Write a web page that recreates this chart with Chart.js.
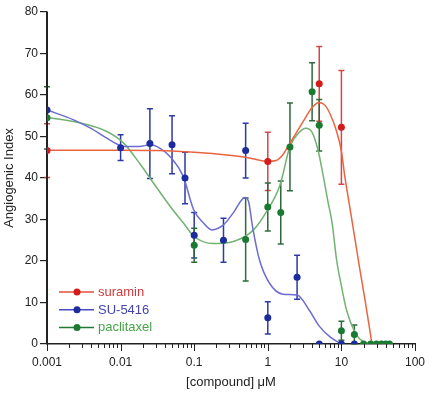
<!DOCTYPE html>
<html><head><meta charset="utf-8">
<script src="https://cdn.jsdelivr.net/npm/chart.js@4/dist/chart.umd.min.js"></script>
<style>html,body{margin:0;padding:0;background:#fff;}#wrap{width:432px;height:394px;}</style>
</head><body><div id="wrap"><canvas id="c" width="432" height="394"></canvas></div>
<script>
// ---- data ----
const seriesNames = ['suramin', 'SU-5416', 'paclitaxel'];
const xTickValues = [0.001, 0.01, 0.1, 1, 10, 100];
const xTickLabels = ['0.001', '0.01', '0.1', '1', '10', '100'];
const yTickStep = 10;

const suraminX   = [0.001, 1, 5, 10];
const suraminY   = [46.6, 44, 62.7, 52.2];
const suraminErr = [6.5, 7, 9, 13.7];

const su5416X   = [0.001, 0.01, 0.025, 0.05, 0.075, 0.1, 0.25, 0.5, 1, 2.5, 5, 10, 15];
const su5416Y   = [56.4, 47.3, 48.3, 48, 40, 26.2, 25, 46.6, 6.3, 16.1, 0, 0, 0];
const su5416Err = [0, 3.1, 8.4, 7, 6.2, 5.5, 5.3, 6.6, 3.9, 5.3, 0, 0, 0];

const paclitaxelX   = [0.001, 0.1, 0.5, 1, 1.5, 2, 4, 5, 10, 15, 20, 25, 30, 35, 40, 45];
const paclitaxelY   = [54.5, 23.8, 25.2, 33, 31.7, 47.5, 60.8, 52.7, 3.2, 2.3, 0, 0, 0, 0, 0, 0];
const paclitaxelErr = [7.5, 4.1, 10, 5.8, 7.6, 10.6, 7, 6.2, 2.3, 2.3, 0, 0, 0, 0, 0, 0];

// fitted curves
const suraminCurveX = [0.001, 0.01, 0.03, 0.1, 0.3, 0.5, 1, 1.3, 1.6, 2, 3, 4, 5, 6, 7.2, 8.5, 10, 11.1, 13, 15.2, 17.8, 20.9, 24.4, 26];
const suraminCurveY = [46.7, 46.7, 46.6, 46.2, 45.5, 45, 44, 44.2, 45.6, 48.4, 53.5, 57, 58.2, 57.5, 55, 51.5, 46.5, 40.5, 33, 25.6, 18, 10.7, 3.2, 0];

const su5416CurveX = [0.001, 0.0023, 0.0039, 0.0065, 0.0089, 0.011, 0.018, 0.025, 0.034, 0.049, 0.071, 0.098, 0.133, 0.173, 0.25, 0.34, 0.49, 0.55, 0.62, 0.77, 1.05, 1.6, 2.5, 3.7, 5, 7, 10];
const su5416CurveY = [56.4, 54, 52, 49.6, 48.2, 47.6, 47.6, 48, 47.2, 44.8, 40.4, 32.4, 29.2, 27.5, 28.7, 31.6, 35.3, 34.2, 28.3, 20.3, 14.7, 12, 11.8, 8, 4.3, 1.7, 0];

const paclitaxelCurveX = [0.001, 0.0023, 0.0065, 0.011, 0.018, 0.025, 0.047, 0.071, 0.1, 0.18, 0.34, 0.64, 0.97, 1.47, 2, 2.6, 3.3, 4, 4.8, 5.6, 6.5, 7.5, 8.6, 10, 11.7, 16, 20, 25];
const paclitaxelCurveY = [54.6, 53.6, 51.2, 48.4, 43.6, 40, 33.2, 29.2, 25.9, 24.2, 24.7, 27.5, 32, 38.4, 47.6, 50.8, 52, 51, 46.8, 41, 34.7, 29, 20.3, 14, 8.3, 2.2, 0.5, 0];

// ---- styles ----
const FONT = "'Liberation Sans', Arial, sans-serif";
const styles = [
  {point: '#d41a1a', err: '#d84545', curve: '#ea6440', text: '#d03a3a', legLine: '#e0503a'},
  {point: '#1c2c9c', err: '#2c3aa4', curve: '#6c6cd2', text: '#4444b4', legLine: '#4a4ac0'},
  {point: '#1a7a32', err: '#2e6a3c', curve: '#72b272', text: '#46a646', legLine: '#237a35'}
];

const zip = (xs, ys) => xs.map((x, i) => ({x, y: ys[i]}));
const pts = [[suraminX, suraminY, suraminErr], [su5416X, su5416Y, su5416Err], [paclitaxelX, paclitaxelY, paclitaxelErr]];
const curves = [[suraminCurveX, suraminCurveY], [su5416CurveX, su5416CurveY], [paclitaxelCurveX, paclitaxelCurveY]];

const datasets = [];
curves.forEach((c, i) => datasets.push({
  label: seriesNames[i] + ' fit', data: zip(c[0], c[1]), showLine: true, pointRadius: 0,
  borderColor: styles[i].curve, borderWidth: 1.5, cubicInterpolationMode: 'monotone', order: 3
}));
pts.forEach((p, i) => datasets.push({
  label: seriesNames[i], data: zip(p[0], p[1]), showLine: false, pointRadius: 3.5,
  backgroundColor: styles[i].point, borderColor: styles[i].point, borderWidth: 0,
  errorBars: p[2], errColor: styles[i].err, order: 1 + (2 - i) * 0.1
}));

const errorBarPlugin = {
  id: 'errorBars',
  beforeDatasetsDraw(chart) {
    const {ctx, scales: {x, y}, chartArea: ca} = chart;
    ctx.save();
    chart.data.datasets.forEach(ds => {
      if (!ds.errorBars) return;
      ctx.strokeStyle = ds.errColor; ctx.lineWidth = 1.5;
      ds.data.forEach((p, j) => {
        const e = ds.errorBars[j]; if (!e) return;
        const px = x.getPixelForValue(p.x);
        const yt = y.getPixelForValue(p.y + e), yb = y.getPixelForValue(Math.max(0, p.y - e));
        ctx.beginPath();
        ctx.moveTo(px, yt); ctx.lineTo(px, yb);
        ctx.moveTo(px - 3, yt); ctx.lineTo(px + 3, yt);
        ctx.moveTo(px - 3, yb); ctx.lineTo(px + 3, yb);
        ctx.stroke();
      });
    });
    // axis line lies over the error bars at the left edge
    ctx.strokeStyle = '#222'; ctx.lineWidth = 2;
    ctx.beginPath(); ctx.moveTo(ca.left, ca.top); ctx.lineTo(ca.left, ca.bottom); ctx.stroke();
    ctx.restore();
  }
};

const axisExtrasPlugin = {
  id: 'axisExtras',
  afterDraw(chart) {
    const {ctx, scales: {x}, chartArea: ca} = chart;
    ctx.save();
    ctx.strokeStyle = '#222'; ctx.lineWidth = 1;
    const lo = Math.round(Math.log10(x.min)), hi = Math.round(Math.log10(x.max));
    for (let d = lo; d <= hi; d++) {
      for (let m = 1; m <= 9; m++) {
        const v = m * Math.pow(10, d);
        if (v > x.max * 1.0001) break;
        const px = Math.round(x.getPixelForValue(v)) + 0.5;
        ctx.beginPath(); ctx.moveTo(px, ca.bottom); ctx.lineTo(px, ca.bottom + (m === 1 ? 7 : 4)); ctx.stroke();
      }
    }
    // legend
    ctx.font = '13px ' + FONT; ctx.textBaseline = 'middle'; ctx.textAlign = 'left';
    seriesNames.forEach((n, i) => {
      const yy = ca.bottom - 52 + i * 17.7;
      const x0 = ca.left + 12;
      ctx.strokeStyle = styles[i].legLine; ctx.lineWidth = 1.5;
      ctx.beginPath(); ctx.moveTo(x0, yy); ctx.lineTo(x0 + 35, yy); ctx.stroke();
      ctx.fillStyle = styles[i].point;
      ctx.beginPath(); ctx.arc(x0 + 18, yy, 3.5, 0, Math.PI * 2); ctx.fill();
      ctx.fillStyle = styles[i].text;
      ctx.fillText(n, x0 + 39, yy + 0.5);
    });
    ctx.restore();
  }
};

new Chart(document.getElementById('c'), {
  type: 'scatter',
  data: {datasets},
  plugins: [errorBarPlugin, axisExtrasPlugin],
  options: {
    responsive: false, animation: false,
    layout: {padding: {top: 12, right: 17, left: 0, bottom: 0}},
    plugins: {legend: {display: false}, tooltip: {enabled: false}},
    scales: {
      x: {
        type: 'logarithmic', min: 0.001, max: 100, position: 'bottom',
        afterBuildTicks: s => { s.ticks = xTickValues.map(v => ({value: v})); },
        afterFit: s => { s.height = 50; },
        grid: {display: true, drawOnChartArea: false, tickLength: 8, color: 'rgba(0,0,0,0)'},
        border: {display: true, color: '#222', width: 1.5},
        ticks: {autoSkip: false, maxRotation: 0, padding: 3, color: '#222', font: {family: FONT, size: 12},
          callback: (v) => { const k = xTickValues.findIndex(t => Math.abs(v / t - 1) < 1e-6); return k >= 0 ? xTickLabels[k] : ''; }},
        title: {display: true, text: '[compound] μM', color: '#222', font: {family: FONT, size: 13}, padding: {top: 0, bottom: 4}}
      },
      y: {
        min: 0, max: 80,
        afterFit: s => { s.width = 47; },
        grid: {display: true, drawOnChartArea: false, tickLength: 7, color: '#222', lineWidth: 1.2},
        border: {display: true, color: '#222', width: 1.5},
        ticks: {stepSize: yTickStep, padding: 2, color: '#222', font: {family: FONT, size: 12}},
        title: {display: true, text: 'Angiogenic Index', color: '#222', font: {family: FONT, size: 13}, padding: {top: 2, bottom: 0}}
      }
    }
  }
});
</script></body></html>
